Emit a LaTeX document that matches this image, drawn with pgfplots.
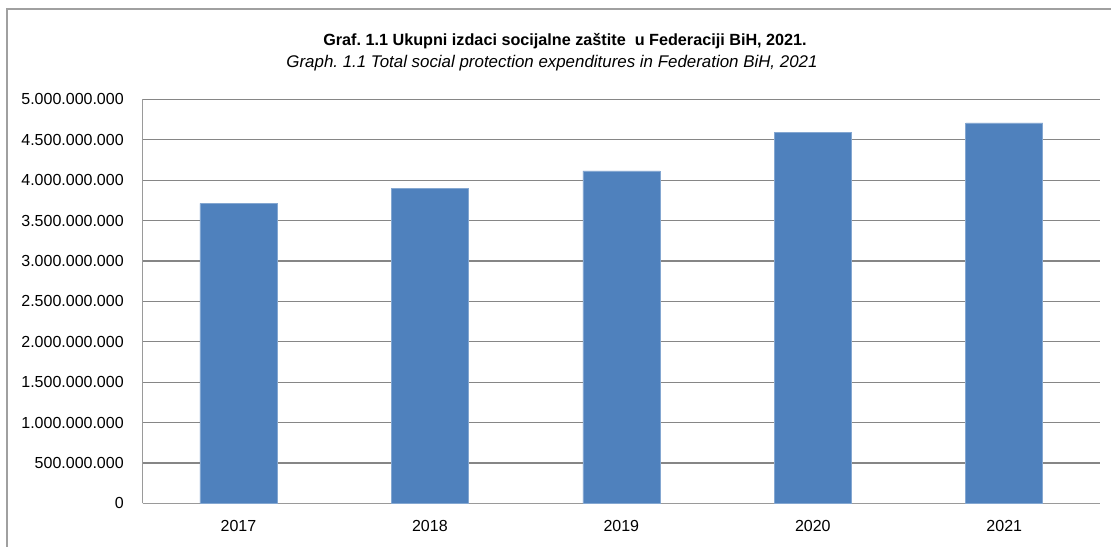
\documentclass[border=0pt]{standalone}
\usepackage{fontspec}
\setmainfont{Liberation Sans}
\usepackage{pgfplots}
\pgfplotsset{compat=1.18}
\definecolor{barblue}{HTML}{4F81BD}
\definecolor{gridgray}{HTML}{868686}
\definecolor{axgray}{HTML}{9A9A9A}
\definecolor{framegray}{HTML}{A0A0A0}
\frenchspacing
\begin{document}
\begin{tikzpicture}
\useasboundingbox (0,0) rectangle (555.5pt,273pt);
\draw[framegray, line width=0.8pt] (3.5pt,-1pt) -- (3.5pt,268.5pt) -- (556pt,268.5pt);
\begin{axis}[
  at={(71.35pt,21.35pt)}, anchor=south west, scale only axis,
  width=478.65pt, height=202pt,
  xmin=-0.5, xmax=4.5, ymin=0, ymax=5000000000,
  scaled y ticks=false,
  axis x line*=bottom, axis y line*=left,
  axis line style={axgray, line width=0.6pt, -},
  xtick=data, xticklabels={2017,2018,2019,2020,2021},
  ytick={0,500000000,1000000000,1500000000,2000000000,2500000000,3000000000,3500000000,4000000000,4500000000,5000000000},
  yticklabels={0,500.000.000,1.000.000.000,1.500.000.000,2.000.000.000,2.500.000.000,3.000.000.000,3.500.000.000,4.000.000.000,4.500.000.000,5.000.000.000},
  major tick length=0pt,
  ymajorgrids, major grid style={gridgray, line width=0.6pt},
  tick label style={font=\fontsize{8}{9.6}\selectfont, inner sep=0pt},
  yticklabel shift=9.3pt, xticklabel shift=8.5pt,
  ybar, bar width=38.5pt,
]
\addplot[fill=barblue, draw=barblue!70!white, line width=0.3pt] coordinates {(0,3713000000) (1,3898000000) (2,4113000000) (3,4595000000) (4,4707000000)};
\end{axis}
\node[font=\fontsize{8.1}{9.7}\selectfont\bfseries, anchor=base, inner sep=0pt] at (282.5pt,250pt) {Graf. 1.1 Ukupni izdaci socijalne zaštite\ \ u Federaciji BiH, 2021.};
\node[font=\fontsize{8.45}{10}\selectfont\itshape, anchor=base, inner sep=0pt] at (276pt,239pt) {Graph. 1.1 Total social protection expenditures in Federation BiH, 2021};
\end{tikzpicture}
\end{document}
